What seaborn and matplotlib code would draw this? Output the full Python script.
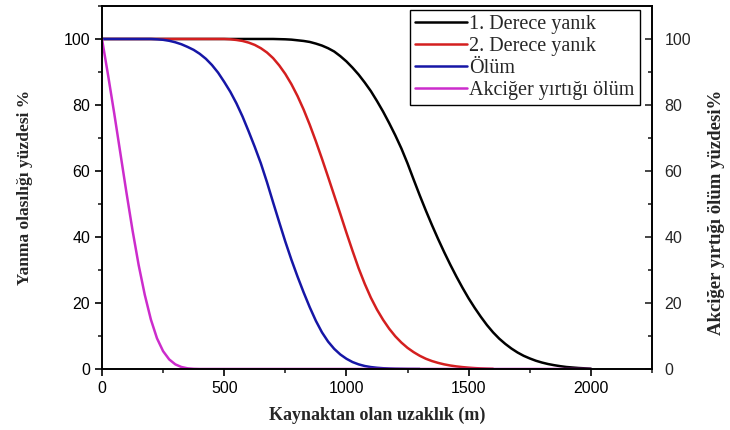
import numpy as np
import pandas as pd
import matplotlib
matplotlib.use("Agg")
import matplotlib.pyplot as plt
from matplotlib.ticker import MultipleLocator
import seaborn as sns

# ---- data ----
series_names = ["1. Derece yanık", "2. Derece yanık", "Ölüm", "Akciğer yırtığı ölüm"]

x_black = [0, 200, 400, 600, 700, 725, 750, 775, 800, 825, 850, 875, 900, 925, 950, 975,
           1000, 1025, 1050, 1075, 1100, 1125, 1150, 1175, 1200, 1225, 1250, 1275, 1300,
           1325, 1350, 1375, 1400, 1425, 1450, 1475, 1500, 1525, 1550, 1575, 1600, 1625,
           1650, 1675, 1700, 1725, 1750, 1775, 1800, 1825, 1850, 1875, 1900, 1925, 1950,
           1975, 2000]
y_black = [100, 100, 100, 100, 100, 99.95, 99.9, 99.8, 99.6, 99.4, 99.1, 98.6, 98, 97.2,
           96.2, 94.8, 93.2, 91.3, 89.2, 86.8, 84.2, 81.2, 78, 74.5, 70.8, 66.8, 62.3, 57.4,
           52.6, 48, 43.6, 39.4, 35.4, 31.6, 28, 24.6, 21.4, 18.5, 15.8, 13.3, 11.1, 9.2,
           7.6, 6.2, 5, 4, 3.2, 2.5, 1.95, 1.5, 1.15, 0.85, 0.6, 0.45, 0.3, 0.2, 0.1]

x_red = [0, 200, 400, 500, 525, 550, 575, 600, 625, 650, 675, 700, 725, 750, 775, 800, 825,
         850, 875, 900, 925, 950, 975, 1000, 1025, 1050, 1075, 1100, 1125, 1150, 1175, 1200,
         1225, 1250, 1275, 1300, 1325, 1350, 1375, 1400, 1425, 1450, 1475, 1500, 1525, 1550,
         1575, 1600]
y_red = [100, 100, 100, 100, 99.9, 99.7, 99.4, 98.9, 98.2, 97.2, 95.9, 94.2, 92, 89.4, 86.3,
         82.7, 78.6, 74, 69, 63.7, 58.2, 52.6, 47, 41.3, 35.8, 30.5, 25.8, 21.6, 18, 14.9,
         12.2, 9.9, 8, 6.4, 5.1, 4, 3.1, 2.4, 1.85, 1.4, 1.05, 0.78, 0.57, 0.4, 0.27, 0.17,
         0.1, 0.05]

x_blue = [0, 100, 200, 225, 250, 275, 300, 325, 350, 375, 400, 425, 450, 475, 500, 525, 550,
          575, 600, 625, 650, 675, 700, 725, 750, 775, 800, 825, 850, 875, 900, 925, 950,
          975, 1000, 1025, 1050, 1075, 1100, 1125, 1150, 1175, 1200, 1250, 1300]
y_blue = [100, 100, 100, 99.9, 99.75, 99.45, 99, 98.4, 97.6, 96.7, 95.5, 94, 92.1, 89.8, 87,
          84, 80.5, 76.5, 72, 67.3, 62.3, 56.6, 50.5, 44.5, 38.6, 33.1, 28, 23.2, 18.7, 14.6,
          11.1, 8.3, 6.1, 4.4, 3.1, 2.1, 1.4, 0.9, 0.58, 0.37, 0.23, 0.14, 0.08, 0.02, 0]

x_mag = [0, 25, 50, 75, 100, 125, 150, 175, 200, 225, 250, 275, 300, 325, 350, 375, 400,
         1000, 1500, 2000]
y_mag = [100, 89, 77.5, 65.5, 53.5, 42, 31.5, 22.5, 15, 9.3, 5.4, 2.9, 1.4, 0.6, 0.2, 0.05,
         0, 0, 0, 0]

colors = ["#000000", "#d41f1f", "#1616a6", "#cc2ccc"]

frames = []
for name, xs, ys in zip(series_names, [x_black, x_red, x_blue, x_mag],
                        [y_black, y_red, y_blue, y_mag]):
    frames.append(pd.DataFrame({"x": xs, "y": ys, "series": name}))
df = pd.concat(frames, ignore_index=True)

# ---- plot ----
sns.set_style("ticks")
plt.rcParams["font.family"] = ["Liberation Sans", "DejaVu Sans"]

fig = plt.figure(figsize=(7.3, 4.3), dpi=100)
ax = fig.add_axes([0.1397, 0.1419, 0.7534, 0.8442])

sns.lineplot(data=df, x="x", y="y", hue="series", hue_order=series_names,
             palette=colors, sort=False, estimator=None, linewidth=1.8, ax=ax)

ax.set_xlim(0, 2250)
ax.set_ylim(0, 110)
ax.set_xticks([0, 500, 1000, 1500, 2000])
ax.set_yticks([0, 20, 40, 60, 80, 100])
ax.xaxis.set_minor_locator(MultipleLocator(250))
ax.yaxis.set_minor_locator(MultipleLocator(10))
ax.tick_params(axis="both", which="major", direction="out", length=5, width=1.2,
               labelsize=11.5, colors="black")
ax.tick_params(axis="both", which="minor", direction="out", length=3, width=1.2)
for s in ax.spines.values():
    s.set_linewidth(1.2)
    s.set_color("black")

serif = ["Liberation Serif", "DejaVu Serif"]
ax.set_xlabel("Kaynaktan olan uzaklık (m)", family=serif, fontweight="bold",
              fontsize=13, labelpad=8)
ax.set_ylabel("Yanma olasılığı yüzdesi %", family=serif, fontweight="bold",
              fontsize=12.5, labelpad=22)

ax2 = ax.twinx()
ax2.set_ylim(0, 110)
ax2.set_yticks([0, 20, 40, 60, 80, 100])
ax2.yaxis.set_minor_locator(MultipleLocator(10))
ax2.tick_params(axis="y", which="major", direction="in", length=5, width=1.2,
                labelsize=11.5, pad=9)
ax2.tick_params(axis="y", which="minor", direction="in", length=3, width=1.2)
for s in ax2.spines.values():
    s.set_linewidth(1.2)
    s.set_color("black")
fig.text(0.982, 0.505, "Akciğer yırtığı ölüm yüzdesi%", family=serif, fontweight="bold",
         fontsize=13.5, rotation=90, ha="center", va="center")

leg = ax.legend(loc="upper right", bbox_to_anchor=(0.978, 0.989), borderaxespad=0,
                frameon=True, fancybox=False, framealpha=1, edgecolor="black",
                prop={"family": serif, "size": 14.5}, handlelength=2.6,
                handletextpad=0.1, labelspacing=0.14, borderpad=0.25, title=None)
leg.get_frame().set_linewidth(1.0)
leg.set_zorder(10)

fig.savefig("out.png", dpi=100)
